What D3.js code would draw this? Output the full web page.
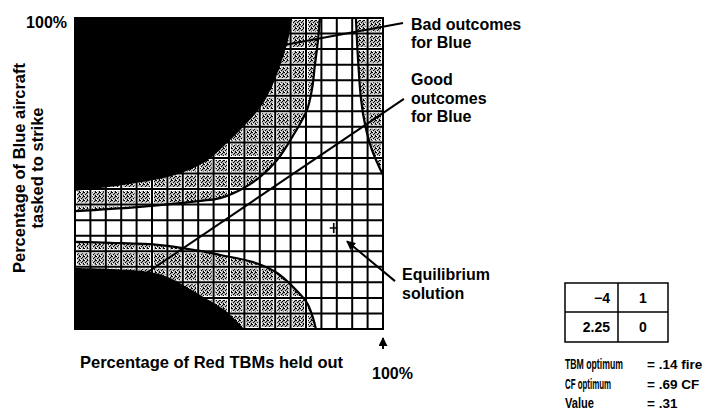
<!DOCTYPE html>
<html>
<head>
<meta charset="utf-8">
<script src="https://cdn.jsdelivr.net/npm/d3@7"></script>
<style>
  body { margin: 0; background: #fff; }
  text { font-family: "Liberation Sans", Arial, sans-serif; font-weight: bold; fill: #000; }
</style>
</head>
<body>
<svg id="chart" width="704" height="415"></svg>
<script>
// boundaries of the outcome regions, in % (x = Red TBMs held out, y = Blue aircraft tasked)
var topBlack = [[0, 44.4], [17.9, 46.6], [32.5, 49.5], [42.2, 53.7], [48.7, 59.2], [55.2, 65.6],
  [60.7, 72.0], [64.6, 79.4], [67.2, 86.5], [69.2, 92.9], [70.5, 100]];
var topGray = [[0, 37.9], [20.1, 39.2], [40.6, 41.2], [47.1, 42.1], [53.6, 44.7], [60.1, 48.9],
  [65.6, 54.3], [70.5, 61.7], [75.3, 70.4], [76.9, 76.8], [77.9, 84.9], [78.9, 92.9], [79.5, 100]];
var rightGray = [[91.2, 100], [91.9, 86.5], [92.9, 73.6], [94.2, 65.6], [96.4, 57.6], [100, 49.5]];
var bottomGray = [[0, 28.0], [11.4, 27.7], [27.6, 27.0], [40.6, 25.1], [47.1, 23.8], [57.8, 21.5],
  [65.6, 18.0], [70.8, 13.5], [75.3, 8.4], [77.3, 3.5], [78.2, 0]];
var bottomBlack = [[0, 19.6], [11.4, 19.3], [24.4, 18.3], [30.8, 16.4], [38.0, 12.5], [44.5, 8.7],
  [49.4, 5.5], [52.6, 2.3], [54.9, 0]];

var gridTicks = [0, 5, 10, 15, 20, 25, 30, 35, 40, 45, 50, 55, 60, 65, 70, 75, 80, 85, 90, 95, 100];

// leader lines and the equilibrium point
var badLeader = [[106.5, 98.4], [60, 89.9]];
var goodLeader = [[106.8, 74.0], [15, 12.5]];
var equilibrium = [84, 32.5];
var eqArrow = [[103.9, 15.4], [88.3, 28.2]];

var payoff = [["\u22124", "1"], ["2.25", "0"]];
var resultNames = ["TBM optimum", "CF optimum", "Value"];
var resultValues = ["= .14 fire", "= .69 CF", "= .31"];

var svg = d3.select("#chart");

var xScale = d3.scaleLinear().domain([0, 100]).range([75, 383]);
var yScale = d3.scaleLinear().domain([0, 100]).range([329, 18]);

var curve = d3.line()
    .x(function(d) { return xScale(d[0]); })
    .y(function(d) { return yScale(d[1]); })
    .curve(d3.curveCatmullRom);

function regionPath(points, corner) {
  return curve(points) + "L" + xScale(corner[0]) + "," + yScale(corner[1]) + "Z";
}

var defs = svg.append("defs");

// dithered gray like the scanned shading
var pat = defs.append("pattern")
    .attr("id", "dither")
    .attr("width", 4).attr("height", 4)
    .attr("patternUnits", "userSpaceOnUse");
pat.append("rect").attr("width", 4).attr("height", 4).attr("fill", "#b4b4b4");
[[0, 0], [2, 1], [1, 2], [3, 3], [3, 0]].forEach(function(p) {
  pat.append("rect").attr("x", p[0]).attr("y", p[1]).attr("width", 1).attr("height", 1).attr("fill", "#000");
});
[[1, 0], [0, 3]].forEach(function(p) {
  pat.append("rect").attr("x", p[0]).attr("y", p[1]).attr("width", 1).attr("height", 1).attr("fill", "#fff");
});

defs.append("clipPath")
    .attr("id", "plot-area")
    .append("rect")
    .attr("x", xScale(0)).attr("y", yScale(100))
    .attr("width", xScale(100) - xScale(0))
    .attr("height", yScale(0) - yScale(100));

defs.append("marker")
    .attr("id", "head")
    .attr("viewBox", "0 0 10 10")
    .attr("refX", 9).attr("refY", 5)
    .attr("markerWidth", 4.5).attr("markerHeight", 4.5)
    .attr("orient", "auto")
    .append("path")
    .attr("d", "M0,0L10,5L0,10Z")
    .attr("fill", "#000");

var plot = svg.append("g").attr("clip-path", "url(#plot-area)");

// gray (bad) regions
plot.append("path").attr("d", regionPath(topGray, [0, 100])).attr("fill", "url(#dither)");
plot.append("path").attr("d", regionPath(rightGray, [100, 100])).attr("fill", "url(#dither)");
plot.append("path").attr("d", regionPath(bottomGray, [0, 0])).attr("fill", "url(#dither)");

// grid, with a white halo so the shaded cells sit apart from the lines
function gridLines(color, width) {
  var g = plot.append("g").attr("stroke", color).attr("stroke-width", width);
  g.selectAll("line.v")
      .data(gridTicks).enter().append("line")
      .attr("x1", function(d) { return xScale(d); })
      .attr("x2", function(d) { return xScale(d); })
      .attr("y1", yScale(0)).attr("y2", yScale(100));
  g.selectAll("line.h")
      .data(gridTicks).enter().append("line")
      .attr("y1", function(d) { return yScale(d); })
      .attr("y2", function(d) { return yScale(d); })
      .attr("x1", xScale(0)).attr("x2", xScale(100));
}
gridLines("#fff", 4);
gridLines("#000", 2);

// leader lines (run under the black regions)
[badLeader, goodLeader].forEach(function(l) {
  svg.append("line")
      .attr("x1", xScale(l[0][0])).attr("y1", yScale(l[0][1]))
      .attr("x2", xScale(l[1][0])).attr("y2", yScale(l[1][1]))
      .attr("stroke", "#000").attr("stroke-width", 2);
});

// black (worst) regions
plot.append("path").attr("d", regionPath(topBlack, [0, 100])).attr("fill", "#000");
plot.append("path").attr("d", regionPath(bottomBlack, [0, 0])).attr("fill", "#000");

// outlines of the gray regions
[topGray, rightGray, bottomGray].forEach(function(b) {
  plot.append("path").attr("d", curve(b))
      .attr("fill", "none").attr("stroke", "#000").attr("stroke-width", 2.2);
});

svg.append("rect")
    .attr("x", xScale(0)).attr("y", yScale(100))
    .attr("width", xScale(100) - xScale(0))
    .attr("height", yScale(0) - yScale(100))
    .attr("fill", "none").attr("stroke", "#000").attr("stroke-width", 2);

// equilibrium marker
var ex = xScale(equilibrium[0]), ey = yScale(equilibrium[1]);
svg.append("path")
    .attr("d", "M" + (ex - 4) + "," + ey + "H" + (ex + 4) + "M" + ex + "," + (ey - 5) + "V" + (ey + 5))
    .attr("stroke", "#000").attr("stroke-width", 1.6);

svg.append("line")
    .attr("x1", xScale(eqArrow[0][0])).attr("y1", yScale(eqArrow[0][1]))
    .attr("x2", xScale(eqArrow[1][0])).attr("y2", yScale(eqArrow[1][1]))
    .attr("stroke", "#000").attr("stroke-width", 2)
    .attr("marker-end", "url(#head)");

// 100% arrow under the x axis
svg.append("line")
    .attr("x1", xScale(100)).attr("y1", 349)
    .attr("x2", xScale(100)).attr("y2", 338)
    .attr("stroke", "#000").attr("stroke-width", 2)
    .attr("marker-end", "url(#head)");

// labels
svg.append("text").attr("x", 67).attr("y", 28).attr("text-anchor", "end")
    .style("font-size", "16px").text("100%");
svg.append("text").attr("x", 372).attr("y", 379)
    .style("font-size", "16px").text("100%");
svg.append("text").attr("x", 80).attr("y", 368)
    .style("font-size", "16.5px").text("Percentage of Red TBMs held out");

var yLab = svg.append("text")
    .attr("transform", "translate(25,168) rotate(-90)")
    .attr("text-anchor", "middle")
    .style("font-size", "16.5px");
yLab.append("tspan").attr("x", 0).attr("y", 0).text("Percentage of Blue aircraft");
yLab.append("tspan").attr("x", 0).attr("y", 18).text("tasked to strike");

function block(lines, x, y, step) {
  var t = svg.append("text").style("font-size", "16px");
  lines.forEach(function(s, i) {
    t.append("tspan").attr("x", x).attr("y", y + i * step).text(s);
  });
}
block(["Bad outcomes", "for Blue"], 411, 30, 17.5);
block(["Good", "outcomes", "for Blue"], 411, 85, 18.5);
block(["Equilibrium", "solution"], 402, 280, 18.5);

// payoff table
var tX = [565, 618, 668], tY = [283, 312, 342];
var table = svg.append("g");
table.append("rect")
    .attr("x", tX[0]).attr("y", tY[0])
    .attr("width", tX[2] - tX[0]).attr("height", tY[2] - tY[0])
    .attr("fill", "none").attr("stroke", "#000").attr("stroke-width", 1.5);
table.append("line").attr("x1", tX[1]).attr("x2", tX[1]).attr("y1", tY[0]).attr("y2", tY[2])
    .attr("stroke", "#000").attr("stroke-width", 1.5);
table.append("line").attr("x1", tX[0]).attr("x2", tX[2]).attr("y1", tY[1]).attr("y2", tY[1])
    .attr("stroke", "#000").attr("stroke-width", 1.5);
payoff.forEach(function(row, i) {
  var base = (tY[i] + tY[i + 1]) / 2 + 5;
  table.append("text").attr("x", tX[1] - 8).attr("y", base)
      .attr("text-anchor", "end").style("font-size", "14px").text(row[0]);
  table.append("text").attr("x", (tX[1] + tX[2]) / 2).attr("y", base)
      .attr("text-anchor", "middle").style("font-size", "14px").text(row[1]);
});

// left column is set condensed in the original: squeeze each name to its width
var nameWidths = [58, 46, 29];
resultNames.forEach(function(s, i) {
  var y = 369 + i * 19.5;
  var t = svg.append("text")
      .style("font-size", "14px").text(s);
  var k = nameWidths[i] / t.node().getComputedTextLength();
  t.attr("transform", "translate(565," + y + ") scale(" + k + ",1)");
  svg.append("text").attr("x", 647).attr("y", y)
      .style("font-size", "13.5px").text(resultValues[i]);
});
</script>
</body>
</html>
